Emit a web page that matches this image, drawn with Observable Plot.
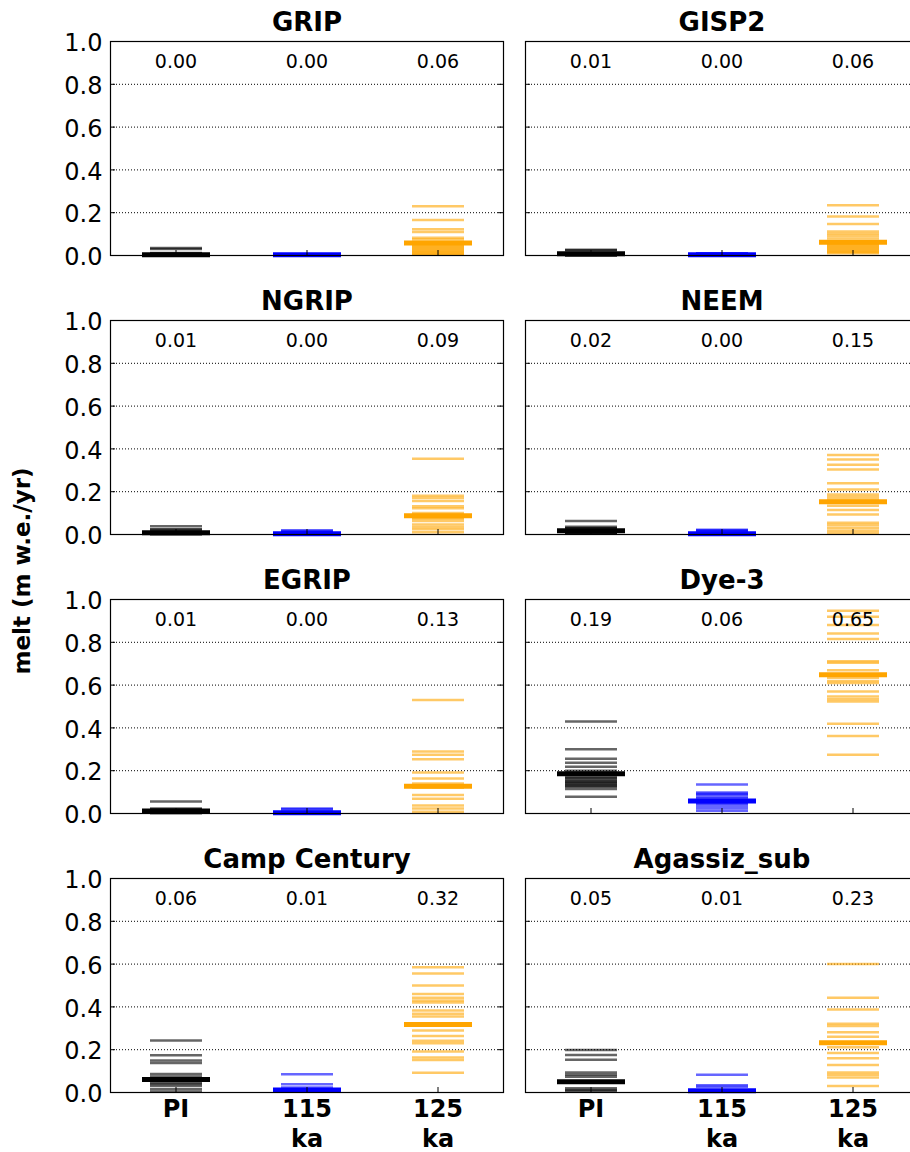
<!DOCTYPE html>
<html><head><meta charset="utf-8">
<script src="https://cdn.jsdelivr.net/npm/d3@7"></script>
<script src="https://cdn.jsdelivr.net/npm/@observablehq/plot@0.6"></script>
<style>
html,body{margin:0;padding:0;background:#fff;}
#fig{position:relative;width:910px;height:1152px;overflow:hidden;font-family:"DejaVu Sans",sans-serif;background:#fff;}
.panel{position:absolute;}
.panel svg{max-width:none !important;display:block;}
#ylab{position:absolute;left:22px;top:571px;transform:translate(-50%,-50%) rotate(-90deg);font-weight:bold;font-size:23px;white-space:nowrap;color:#000;}
</style></head><body>
<div id="fig"><div id="ylab">melt (m w.e./yr)</div></div>
<script>
// ---- data ----
const sites = ["GRIP", "GISP2", "NGRIP", "NEEM", "EGRIP", "Dye-3", "Camp Century", "Agassiz_sub"];
const periods = ["PI", "115 ka", "125 ka"];
const periodLabels = ["PI", "115\nka", "125\nka"];
const yTicks = [0, 0.2, 0.4, 0.6, 0.8, 1.0];
const gridValues = [0.2, 0.4, 0.6, 0.8];

// ensemble members (m w.e./yr), one list per site, in site order
const membersPI = [
  [0.035, 0.03, 0.012, 0.009, 0.006, 0.004, 0.003, 0.002, 0.001, 0.001, 0, 0],
  [0.027, 0.025, 0.012, 0.01, 0.008, 0.005, 0.003, 0.002, 0.001, 0],
  [0.038, 0.025, 0.022, 0.012, 0.01, 0.008, 0.005, 0.003, 0.002, 0.001],
  [0.063, 0.036, 0.03, 0.028, 0.016, 0.012, 0.008, 0.005, 0.003],
  [0.056, 0.023, 0.02, 0.012, 0.008, 0.005, 0.003, 0.001],
  [0.43, 0.30, 0.256, 0.2375, 0.219, 0.2, 0.169, 0.165, 0.158, 0.15, 0.147, 0.14, 0.136, 0.13, 0.125, 0.114, 0.078],
  [0.243, 0.174, 0.149, 0.138, 0.086, 0.075, 0.047, 0.04, 0.031, 0.016, 0.005],
  [0.199, 0.175, 0.153, 0.094, 0.083, 0.074, 0.02, 0.012, 0.008]
];
const members115 = [
  [0.006, 0.005, 0.004, 0.003, 0.002, 0.001, 0.001, 0, 0],
  [0.011, 0.009, 0.006, 0.005, 0.004, 0.003, 0.002, 0.001, 0],
  [0.019, 0.017, 0.011, 0.008, 0.005, 0.004, 0.003, 0.002, 0.001],
  [0.022, 0.019, 0.017, 0.008, 0.005, 0.004, 0.002, 0.001],
  [0.023, 0.02, 0.009, 0.006, 0.004, 0.002, 0.001],
  [0.136, 0.098, 0.092, 0.0875, 0.077, 0.07, 0.05, 0.045, 0.036, 0.025, 0.0125],
  [0.085, 0.038, 0.023, 0.012, 0.008, 0.005],
  [0.083, 0.034, 0.027, 0.008, 0.005]
];
const members125 = [
  [0.23, 0.166, 0.123, 0.11, 0.083, 0.075, 0.05, 0.045, 0.04, 0.035, 0.03, 0.025, 0.02, 0.015, 0.01, 0.005, 0.003],
  [0.235, 0.182, 0.147, 0.112, 0.102, 0.091, 0.08, 0.055, 0.05, 0.045, 0.04, 0.035, 0.03, 0.025, 0.02, 0.015, 0.01],
  [0.354, 0.181, 0.17, 0.157, 0.132, 0.123, 0.1, 0.092, 0.08, 0.074, 0.063, 0.047, 0.035, 0.024, 0.011],
  [0.372, 0.35, 0.326, 0.304, 0.24, 0.21, 0.187, 0.176, 0.165, 0.134, 0.115, 0.094, 0.055, 0.044, 0.031, 0.019, 0.008],
  [0.53, 0.29, 0.275, 0.253, 0.192, 0.164, 0.14, 0.12, 0.086, 0.069, 0.037, 0.023, 0.008],
  [0.947, 0.919, 0.881, 0.841, 0.816, 0.711, 0.705, 0.669, 0.634, 0.619, 0.61, 0.57, 0.547, 0.534, 0.523, 0.419, 0.3625, 0.275],
  [0.585, 0.556, 0.5, 0.46, 0.443, 0.43, 0.42, 0.383, 0.368, 0.355, 0.29, 0.264, 0.242, 0.23, 0.192, 0.164, 0.152, 0.092],
  [0.6, 0.443, 0.388, 0.321, 0.311, 0.282, 0.261, 0.211, 0.185, 0.16, 0.128, 0.094, 0.083, 0.07, 0.03]
];
// ensemble means, in site order
const meansPI  = [0.004, 0.008, 0.008, 0.018, 0.012, 0.186, 0.061, 0.05];
const means115 = [0.003, 0.004, 0.004, 0.004, 0.004, 0.058, 0.012, 0.008];
const means125 = [0.058, 0.062, 0.088, 0.153, 0.127, 0.648, 0.318, 0.232];

// ---- drawing ----
const memberSets = [membersPI, members115, members125];
const meanSets = [meansPI, means115, means125];
const periodColors = ["black", "blue", "orange"];

const fig = document.getElementById("fig");
const frameW = 393, frameH = 214;
const rowTops = [41, 320, 599, 878];
const colLefts = [110, 525];

sites.forEach((site, s) => {
  const col = s % 2, row = Math.floor(s / 2);
  const isLeft = col === 0, isBottom = row === 3;
  const mL = isLeft ? 110 : 11, mR = 12, mT = 41, mB = isBottom ? 60 : 4;
  const W = mL + frameW + mR, H = mT + frameH + mB;
  const members = periods.flatMap((p, i) => memberSets[i][s].map(v => ({period: p, value: v})));
  const means = periods.map((p, i) => ({period: p, value: meanSets[i][s]}));
  const marks = [
    Plot.ruleY(gridValues, {stroke: "black", strokeWidth: 1, strokeDasharray: "1,2"}),
    Plot.tickY(members, {x: "period", y: "value", stroke: "period", strokeOpacity: 0.6, strokeWidth: 2.5, insetLeft: 40, insetRight: 39}),
    Plot.tickY(means, {x: "period", y: "value", stroke: "period", strokeWidth: 5, insetLeft: 32, insetRight: 31}),
    Plot.text(means, {x: "period", frameAnchor: "top", lineAnchor: "middle", dy: 20.5, text: d => d.value.toFixed(2), fontSize: 19, fill: "black"}),
    Plot.text([site], {frameAnchor: "top", lineAnchor: "middle", dy: -19, text: d => d, fontSize: 26, fontWeight: "bold", fill: "black"}),
    Plot.ruleY(yTicks, {insetRight: frameW - 5, stroke: "black"}),
    Plot.ruleY(yTicks, {insetLeft: frameW - 5, stroke: "black"}),
    Plot.ruleX(periods, {insetTop: frameH - 5, stroke: "black"}),
    Plot.frame({stroke: "black", strokeWidth: 1.2})
  ];
  if (isLeft) marks.push(Plot.axisY(yTicks, {tickSize: 0, tickPadding: 8, tickFormat: d => d.toFixed(1), fontSize: 24, dy: 2, label: null, fill: "black"}));
  if (isBottom) marks.push(Plot.axisX(periods, {tickSize: 0, tickPadding: 3, tickFormat: d => periodLabels[periods.indexOf(d)], fontSize: 24, fontWeight: "bold", lineHeight: 1.25, label: null, fill: "black"}));
  const chart = Plot.plot({
    width: W, height: H,
    marginLeft: mL, marginRight: mR, marginTop: mT, marginBottom: mB,
    style: {background: "transparent", fontFamily: "DejaVu Sans", overflow: "visible", color: "black", maxWidth: "none"},
    x: {type: "band", domain: periods, padding: 0, axis: isBottom ? undefined : null},
    y: {domain: [0, 1], axis: isLeft ? undefined : null},
    color: {domain: periods, range: periodColors},
    marks
  });
  const wrap = document.createElement("div");
  wrap.className = "panel";
  wrap.style.left = (colLefts[col] - mL) + "px";
  wrap.style.top = (rowTops[row] - mT) + "px";
  wrap.style.width = W + "px";
  wrap.style.height = H + "px";
  wrap.appendChild(chart);
  fig.appendChild(wrap);
});
</script>
</body></html>
